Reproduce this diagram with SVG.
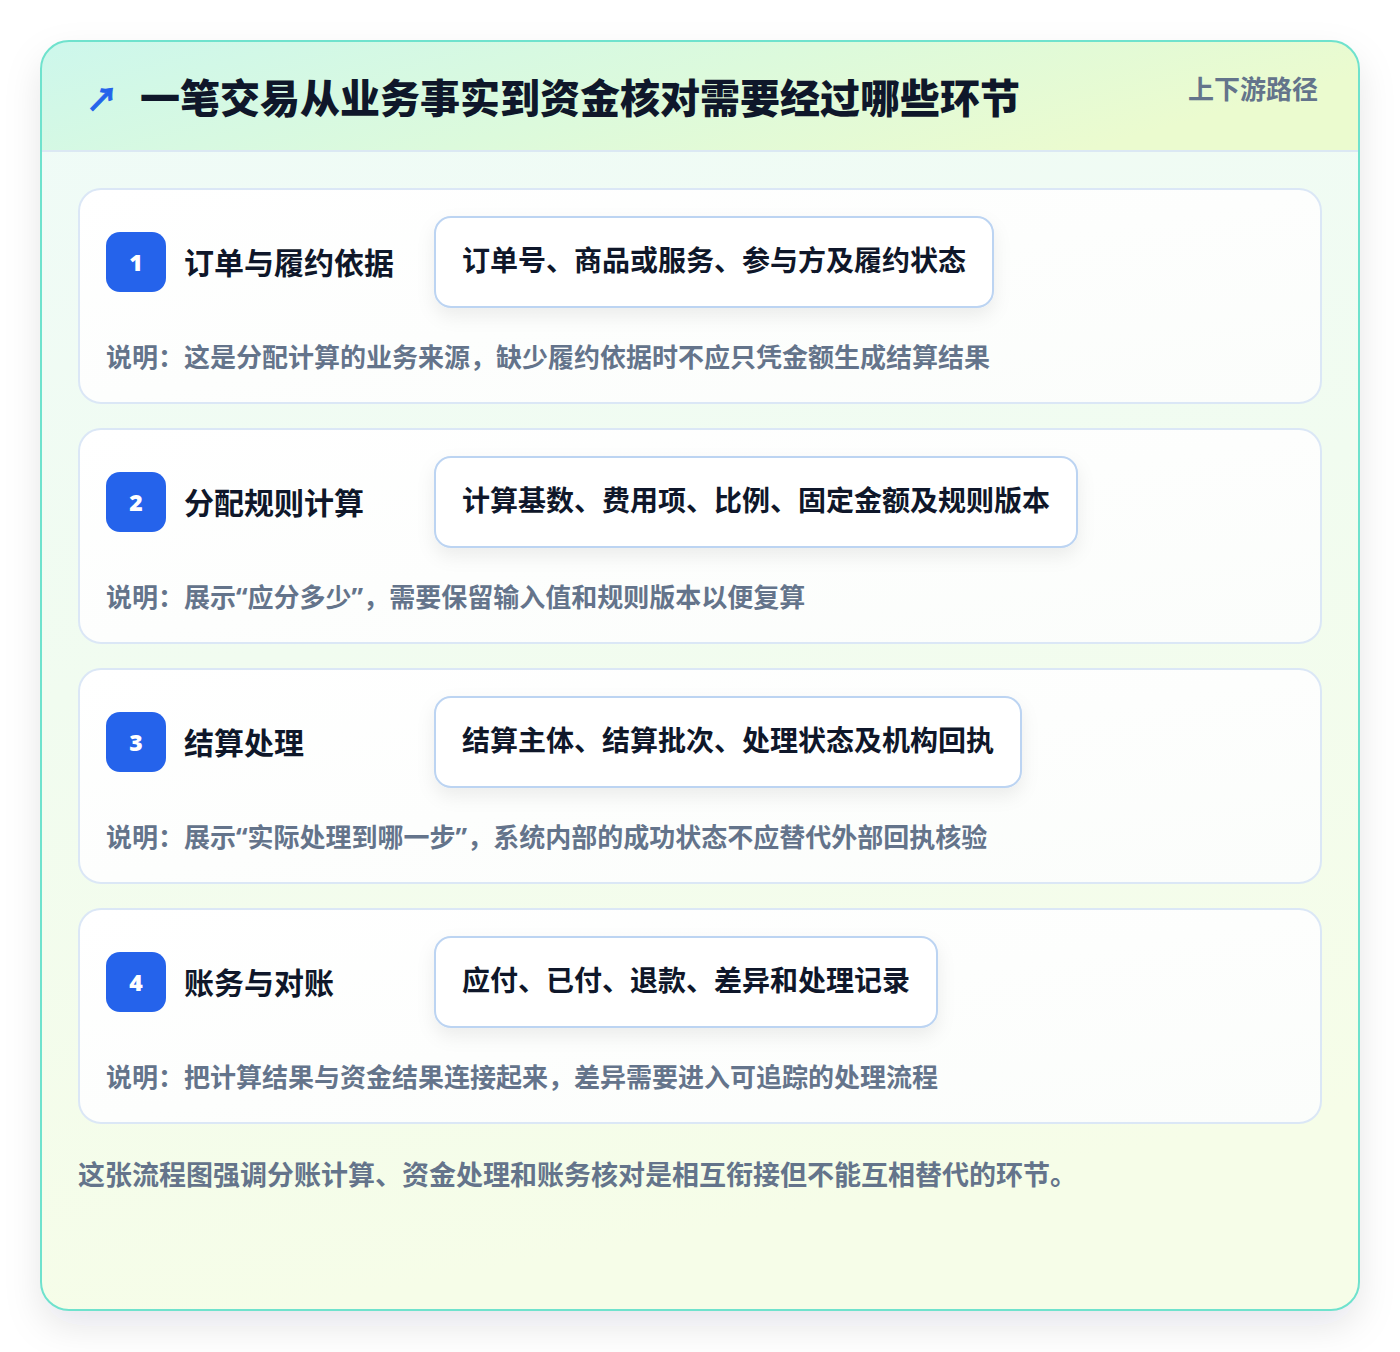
<svg xmlns="http://www.w3.org/2000/svg" width="1400" height="1352" viewBox="0 0 1400 1352">
<defs>
<linearGradient id="hdr" x1="0" y1="0" x2="1" y2="0.3">
<stop offset="0" stop-color="#cdf7ec"/>
<stop offset="0.55" stop-color="#dcfadc"/>
<stop offset="1" stop-color="#ebfbcf"/>
</linearGradient>
<linearGradient id="body" x1="0" y1="0" x2="0.2" y2="1">
<stop offset="0" stop-color="#effbf8"/>
<stop offset="0.5" stop-color="#f1fcf0"/>
<stop offset="1" stop-color="#f6fde8"/>
</linearGradient>
<linearGradient id="cardg" x1="0" y1="0" x2="1" y2="1">
<stop offset="0" stop-color="#ffffff"/>
<stop offset="1" stop-color="#fbfdfb"/>
</linearGradient>
<filter id="sh" x="-10%" y="-10%" width="120%" height="125%">
<feDropShadow dx="0" dy="16" stdDeviation="18" flood-color="#0f172a" flood-opacity="0.10"/>
</filter>
<filter id="psh" x="-10%" y="-30%" width="120%" height="170%">
<feDropShadow dx="0" dy="8" stdDeviation="9" flood-color="#0f172a" flood-opacity="0.07"/>
</filter>
<clipPath id="oc"><rect x="41" y="41" width="1318" height="1269" rx="28"/></clipPath>
</defs>
<style>
text{font-family:"Noto Sans CJK SC","Noto Sans",sans-serif;}
.q{font-family:"Noto Sans",sans-serif;}
.title{font-size:40px;font-weight:900;fill:#0f172a;}
.tag{font-size:26px;font-weight:700;fill:#64748b;}
.card{fill:url(#cardg);stroke:#dbe7f6;stroke-width:2;}
.badge{fill:#2563eb;}
.num{font-size:23px;font-weight:900;fill:#ffffff;text-anchor:middle;font-family:"Noto Sans",sans-serif;}
.lbl{font-size:30px;font-weight:700;fill:#0f172a;}
.pill{fill:#ffffff;stroke:#bcd4f2;stroke-width:2;}
.ptx{font-size:28px;font-weight:700;fill:#0f172a;}
.exp{font-size:26px;font-weight:700;fill:#64748b;}
.foot{font-size:27px;font-weight:700;fill:#64748b;}
</style>
<rect width="1400" height="1352" fill="#ffffff"/>
<g id="frame">
<rect x="41" y="41" width="1318" height="1269" rx="28" fill="url(#body)" filter="url(#sh)"/>
<g clip-path="url(#oc)">
<rect x="41" y="41" width="1318" height="110" fill="url(#hdr)"/>
<line x1="41" y1="151" x2="1359" y2="151" stroke="#dbe8f3" stroke-width="2"/>
</g>
<rect x="41" y="41" width="1318" height="1269" rx="28" fill="none" stroke="#6fe2cd" stroke-width="2"/>
</g>
<g id="header">
<text x="86" y="111" font-size="32" font-weight="700" fill="#2563eb" stroke="#2563eb" stroke-width="0.8" font-family="DejaVu Sans, sans-serif">↗</text>
<text class="title" x="140" y="113">一笔交易从业务事实到资金核对需要经过哪些环节</text>
<text class="tag" x="1318" y="99" text-anchor="end">上下游路径</text>
</g>
<g id="step1">
<rect class="card" x="79" y="189" width="1242" height="214" rx="22"/>
<rect class="badge" x="106" y="232" width="60" height="60" rx="14"/>
<text class="num" x="136" y="271">1</text>
<text class="lbl" x="184" y="274">订单与履约依据</text>
<rect class="pill" x="435" y="217" width="558" height="90" rx="16" filter="url(#psh)"/>
<text class="ptx" x="462" y="271">订单号、商品或服务、参与方及履约状态</text>
<text class="exp" x="106" y="367">说明：这是分配计算的业务来源，缺少履约依据时不应只凭金额生成结算结果</text>
</g>
<g id="step2">
<rect class="card" x="79" y="429" width="1242" height="214" rx="22"/>
<rect class="badge" x="106" y="472" width="60" height="60" rx="14"/>
<text class="num" x="136" y="511">2</text>
<text class="lbl" x="184" y="514">分配规则计算</text>
<rect class="pill" x="435" y="457" width="642" height="90" rx="16" filter="url(#psh)"/>
<text class="ptx" x="462" y="511">计算基数、费用项、比例、固定金额及规则版本</text>
<text class="exp" x="106" y="607">说明：展示<tspan class="q">“</tspan>应分多少<tspan class="q">”</tspan>，需要保留输入值和规则版本以便复算</text>
</g>
<g id="step3">
<rect class="card" x="79" y="669" width="1242" height="214" rx="22"/>
<rect class="badge" x="106" y="712" width="60" height="60" rx="14"/>
<text class="num" x="136" y="751">3</text>
<text class="lbl" x="184" y="754">结算处理</text>
<rect class="pill" x="435" y="697" width="586" height="90" rx="16" filter="url(#psh)"/>
<text class="ptx" x="462" y="751">结算主体、结算批次、处理状态及机构回执</text>
<text class="exp" x="106" y="847">说明：展示<tspan class="q">“</tspan>实际处理到哪一步<tspan class="q">”</tspan>，系统内部的成功状态不应替代外部回执核验</text>
</g>
<g id="step4">
<rect class="card" x="79" y="909" width="1242" height="214" rx="22"/>
<rect class="badge" x="106" y="952" width="60" height="60" rx="14"/>
<text class="num" x="136" y="991">4</text>
<text class="lbl" x="184" y="994">账务与对账</text>
<rect class="pill" x="435" y="937" width="502" height="90" rx="16" filter="url(#psh)"/>
<text class="ptx" x="462" y="991">应付、已付、退款、差异和处理记录</text>
<text class="exp" x="106" y="1087">说明：把计算结果与资金结果连接起来，差异需要进入可追踪的处理流程</text>
</g>
<g id="connectors"></g>
<text class="foot" x="78" y="1185">这张流程图强调分账计算、资金处理和账务核对是相互衔接但不能互相替代的环节。</text>
</svg>
